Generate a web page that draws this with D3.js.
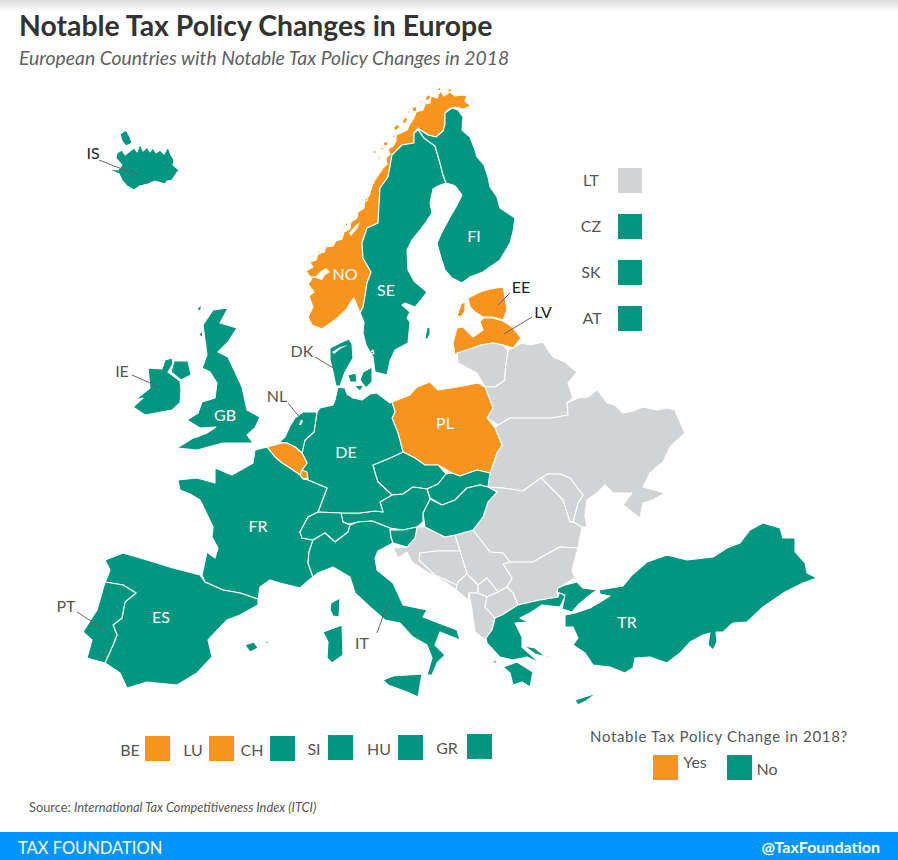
<!DOCTYPE html>
<html><head><meta charset="utf-8">
<script src="https://cdn.jsdelivr.net/npm/d3@7"></script>
<style>html,body{margin:0;padding:0;background:#fff}svg{display:block}text{font-family:Lato,"Open Sans",sans-serif}</style>
</head><body><svg id="c" width="898" height="860"></svg>
<script>
const NO=[[308,317],[313,307],[309,296],[314,292],[308,284],[312,279],[306,271],[313,267],[310,262],[316,260],[318,254],[324,252],[326,247],[333,246],[336,241],[342,239],[344,232],[350,229],[351,222],[357,218],[358,212],[364,208],[365,199],[369,196],[372,186],[375,180],[379,174],[383,168],[387,164],[386,158],[390,154],[388,149],[393,146],[396,141],[396,135],[403,132],[407,130],[410,124],[414,118],[416,112],[423,110],[425,104],[430,103],[431,96],[437,98],[440,91],[444,96],[450,92],[455,96],[462,95],[467,96],[465,101],[471,106],[463,109],[455,107],[449,109],[445,113],[445,124],[443,131],[436,137],[428,135],[422,131],[418,128],[414,133],[414,143],[402,145],[392,155],[388,177],[380,188],[379,205],[378,223],[367,228],[362,243],[363,258],[371,272],[367,283],[365,296],[363,307],[360,313],[354,298],[350,303],[346,310],[335,320],[322,329],[312,325]];
const NOisles=[[[402,122],[405,117],[408,119],[405,124]],[[412,108],[416,106],[417,111],[413,112]],[[425,98],[429,94],[431,98],[427,101]],[[393,128],[397,124],[400,127],[396,131]],[[383,143],[387,141],[388,145],[384,146]],[[372,152],[376,150],[376,154]],[[436,90],[440,87],[441,91]],[[446,91],[451,88],[452,92]],[[363,203],[366,197],[368,200]],[[380,149],[383,147],[384,151]],[[392,136],[395,134],[395,139]],[[377,158],[380,156],[380,160]],[[407,112],[410,110],[410,114]],[[419,102],[422,100],[422,104]],[[470,101],[473,102],[471,104]],[[317,252],[320,250],[320,254]],[[345,224],[348,222],[347,227]]];
const SE=[[414,143],[414,133],[418,130],[424,138],[435,146],[440,163],[443,175],[446,183],[438,186],[433,189],[430,203],[432,213],[426,222],[420,230],[412,240],[407,250],[408,270],[414,281],[427,292],[421,300],[415,307],[405,303],[402,305],[410,312],[407,318],[410,322],[408,343],[395,350],[390,361],[387,375],[375,372],[373,357],[366,345],[363,333],[364,322],[360,313],[363,307],[365,296],[367,283],[371,272],[363,258],[362,243],[367,228],[378,223],[379,205],[380,188],[388,177],[392,155],[402,145]];
const SEisle=[[[427,328],[430,327],[430,334],[427,340],[425,338]]];
const FI=[[418,129],[422,131],[428,135],[436,137],[443,131],[445,124],[445,113],[452,108],[458,110],[463,117],[462,130],[470,137],[475,150],[477,157],[484,165],[488,177],[490,187],[497,197],[500,208],[515,218],[513,232],[510,243],[500,260],[490,267],[483,272],[470,277],[462,283],[452,278],[445,270],[441,258],[437,243],[442,232],[450,217],[456,207],[458,203],[462,195],[456,187],[453,185],[446,183],[443,175],[440,163],[435,146],[424,138]];
const EE=[[468,298],[480,292],[490,289],[503,287],[505,297],[507,310],[503,320],[493,317],[483,317],[475,312],[470,307]];
const EEisle=[[[461,304],[465,302],[465,311],[461,317],[457,316]]];
const LV=[[483,318],[493,318],[503,321],[512,327],[521,338],[513,348],[503,345],[493,343],[481,345],[473,348],[455,355],[453,343],[457,328],[463,327],[473,337],[483,330],[480,322]];
const LT=[[457,353],[473,348],[481,345],[493,343],[503,345],[508,350],[505,373],[505,380],[495,387],[485,387],[477,373],[458,363]];
const BY=[[508,350],[513,348],[521,343],[530,345],[543,342],[548,350],[553,357],[565,362],[577,372],[568,383],[573,398],[567,403],[568,415],[552,418],[533,418],[510,418],[498,425],[487,418],[493,408],[485,387],[495,387],[505,380],[505,373]];
const UA=[[498,425],[510,418],[533,418],[552,418],[568,415],[567,403],[578,398],[588,397],[597,390],[602,396],[607,403],[615,405],[623,413],[633,411],[643,407],[657,410],[667,408],[675,410],[680,422],[685,433],[670,447],[663,462],[650,473],[643,487],[665,493],[653,500],[643,503],[640,518],[623,505],[632,493],[613,493],[605,485],[597,493],[587,500],[585,515],[587,527],[582,527],[573,522],[578,503],[583,495],[570,478],[560,474],[548,474],[541,478],[523,491],[503,488],[488,487],[490,473],[497,453],[502,445],[495,428]];
const MD=[[541,478],[548,474],[560,474],[570,478],[583,495],[578,503],[573,522],[570,522],[567,513],[563,500]];
const RO=[[488,487],[503,488],[523,491],[541,478],[563,500],[567,513],[570,522],[573,522],[582,527],[578,548],[560,547],[547,554],[533,562],[510,562],[503,553],[490,552],[473,530],[483,517],[488,502],[497,492]];
const BG=[[510,562],[533,562],[547,554],[560,547],[578,548],[572,570],[575,578],[563,585],[557,592],[558,597],[540,600],[518,605],[513,593],[507,587],[512,578],[503,564]];
const RS=[[455,535],[473,530],[490,552],[503,553],[510,562],[503,564],[512,578],[507,587],[498,592],[487,578],[478,585],[467,574],[463,561],[460,551]];
const HR=[[393,548],[407,547],[415,538],[417,527],[425,527],[445,537],[455,535],[460,551],[437,551],[420,553],[419,560],[435,575],[457,585],[456,590],[445,582],[427,572],[412,562],[407,552],[398,558]];
const BA=[[420,553],[437,551],[460,551],[463,561],[467,574],[458,582],[457,585],[435,575],[419,560]];
const ME=[[467,574],[478,585],[478,593],[469,593],[468,600],[456,590],[457,585],[458,582]];
const XK=[[487,578],[498,592],[487,597],[478,593],[478,585]];
const AL=[[469,593],[478,593],[487,597],[485,607],[495,618],[492,630],[485,640],[475,632],[472,610]];
const MK=[[487,597],[498,592],[507,587],[513,593],[518,605],[513,608],[502,615],[495,618],[485,607]];
const PL=[[392,402],[410,395],[417,387],[430,382],[438,390],[457,387],[478,383],[485,387],[493,408],[487,418],[495,428],[502,445],[497,453],[490,473],[477,470],[460,476],[452,473],[438,465],[425,465],[415,458],[403,452],[398,433],[392,418],[395,412]];
const CZ=[[373,465],[390,458],[403,452],[415,458],[425,465],[438,465],[446,474],[438,484],[427,489],[413,487],[403,494],[392,495],[378,482],[375,473]];
const SK=[[446,474],[452,473],[460,476],[477,470],[490,473],[488,487],[480,485],[467,488],[455,500],[442,505],[430,498],[427,489],[438,484]];
const HU=[[430,499],[442,505],[455,500],[467,488],[480,485],[488,487],[497,492],[488,502],[483,517],[473,530],[455,535],[445,537],[425,527],[423,513]];
const AT=[[341,513],[360,513],[375,511],[383,512],[380,502],[392,495],[403,494],[413,487],[427,489],[430,499],[423,513],[423,522],[417,527],[403,530],[390,528],[372,521],[358,522],[349,524],[343,522]];
const SI=[[390,530],[403,530],[417,527],[415,538],[407,547],[393,543],[391,538]];
const DE=[[320,408],[333,405],[335,400],[338,387],[345,388],[347,394],[353,398],[362,400],[370,394],[377,393],[390,403],[392,402],[395,412],[392,418],[398,433],[403,452],[390,458],[373,465],[375,473],[378,482],[392,495],[380,502],[383,512],[375,511],[360,513],[341,513],[318,512],[327,488],[308,480],[302,470],[307,463],[302,453],[305,440],[314,432],[317,412]];
const NL=[[285,437],[290,426],[295,418],[303,412],[317,412],[314,432],[305,440],[302,453],[295,447],[287,443],[279,442]];
const BE=[[267,447],[282,443],[287,443],[295,447],[302,453],[307,463],[302,470],[300,475],[290,468],[282,463],[275,457]];
const LU=[[302,470],[307,472],[308,478],[303,479],[300,475]];
const FR=[[255,450],[267,447],[275,457],[282,463],[290,468],[300,475],[303,479],[308,480],[327,488],[318,512],[308,517],[300,532],[302,538],[313,540],[309,552],[308,563],[313,577],[307,582],[300,588],[280,583],[270,580],[260,587],[258,599],[240,593],[223,590],[205,582],[202,575],[207,552],[215,558],[218,548],[212,537],[213,527],[205,510],[200,500],[190,494],[180,490],[178,480],[197,478],[215,483],[215,468],[232,475],[253,463]];
const CH=[[300,532],[308,517],[318,512],[341,513],[343,522],[350,525],[348,532],[335,542],[325,533],[313,540],[302,538]];
const IT=[[307,582],[313,577],[308,563],[309,552],[313,540],[325,533],[335,542],[348,532],[350,525],[358,522],[372,521],[390,528],[390,530],[391,538],[393,543],[378,551],[375,558],[377,570],[393,583],[403,605],[427,610],[423,617],[457,630],[460,640],[440,632],[435,645],[445,655],[437,663],[432,675],[427,675],[432,658],[427,645],[413,637],[400,623],[385,620],[370,607],[355,593],[350,577],[333,567],[318,573]];
const ITisles=[[[383,680],[393,676],[422,674],[418,697],[407,692],[388,685]],[[323,632],[342,625],[343,655],[332,663],[327,658],[328,642]],[[331,603],[340,598],[339,617],[333,616],[330,610]]];
const ES=[[105,560],[123,553],[147,560],[173,568],[200,575],[205,582],[223,590],[240,593],[258,599],[258,605],[240,615],[227,620],[208,640],[212,657],[197,673],[177,685],[147,682],[127,688],[120,673],[105,663],[113,645],[117,635],[113,625],[122,618],[125,602],[136,593],[123,585],[105,582],[107,578],[110,570]];
const ESisles=[[[245,645],[254,642],[258,648],[250,652]],[[264,641],[269,642],[267,644]]];
const PT=[[105,582],[123,585],[136,593],[125,602],[122,618],[113,625],[117,635],[113,645],[105,663],[87,658],[92,640],[83,632],[97,610]];
const GB=[[177,448],[193,438],[197,437],[207,433],[216,427],[200,428],[187,420],[198,413],[202,402],[215,398],[217,383],[210,372],[202,368],[207,355],[203,325],[213,310],[228,308],[220,323],[237,328],[228,342],[218,352],[228,357],[242,387],[247,410],[260,417],[255,428],[247,435],[253,443],[223,443],[197,450]];
const GBisles=[[[174,361],[188,361],[191,375],[181,380],[171,372]],[[197,308],[202,305],[200,312]],[[199,335],[202,330],[203,338]]];
const IE=[[148,368],[162,369],[165,360],[172,358],[173,364],[168,372],[180,381],[181,390],[180,403],[172,410],[145,415],[133,407],[143,398],[135,400],[150,388]];
const DK=[[330,348],[340,343],[349,339],[352,344],[353,358],[345,372],[340,386],[336,386],[333,372],[330,360]];
const DKisles=[[[363,372],[372,367],[372,382],[366,388],[360,380]],[[348,375],[356,373],[357,382],[350,382]],[[354,386],[364,385],[360,391]],[[370,353],[373,350],[374,354]]];
const IS=[[117,153],[122,150],[125,155],[130,151],[134,148],[137,152],[140,144],[143,151],[147,147],[150,152],[153,148],[156,153],[160,150],[164,154],[168,147],[171,155],[174,160],[173,165],[179,170],[176,174],[172,180],[167,181],[165,184],[155,181],[148,184],[140,186],[134,190],[127,186],[122,180],[119,174],[108,169],[118,170],[122,165],[116,158]];
const ISisles=[[[120,134],[126,130],[130,137],[132,143],[126,146],[122,141]],[[113,137],[116,136],[115,139]]];
const GR=[[486,638],[492,630],[495,618],[502,615],[513,608],[518,605],[540,600],[558,597],[560,590],[565,597],[560,607],[542,605],[530,613],[520,618],[528,622],[515,623],[522,637],[522,647],[540,663],[527,657],[513,660],[500,657],[487,643]];
const GRisles=[[[503,667],[517,662],[533,672],[530,687],[522,682],[513,685],[510,673]],[[524,646],[535,648],[546,657],[535,654]],[[493,661],[496,660],[496,665]],[[546,655],[549,656],[547,658]]];
const TR=[[599,590],[623,586],[632,575],[647,562],[667,555],[687,560],[713,557],[727,548],[740,543],[750,530],[763,523],[780,528],[783,538],[795,538],[795,552],[805,563],[807,573],[817,578],[803,583],[785,592],[763,607],[747,622],[733,623],[723,632],[716,632],[717,642],[713,650],[708,645],[710,633],[703,635],[690,642],[680,653],[667,663],[650,657],[635,658],[633,668],[625,673],[610,667],[593,665],[585,653],[573,645],[578,638],[573,627],[565,627],[565,615],[575,613],[590,608],[600,602],[610,596],[600,594]];
const TRisles=[[[565,585],[577,582],[583,588],[597,590],[590,595],[578,605],[572,612],[562,609],[565,595],[557,592],[558,588]]];
const CY=[[575,700],[597,693],[586,701],[578,705]];
// water bodies inside land
const waterNO=[[307,277],[316,276],[321,271],[326,268],[330,272],[325,275],[322,280],[316,278]];
const waterNO2=[[349,233],[356,225],[360,222],[357,229],[351,236]];
const waterNL=[[299,425],[301,419],[303,421],[301,425]];
const waterDK=[[332,352],[340,347],[348,345],[340,349],[334,354]];

const countryCodes=["NO","SE","FI","EE","LV","LT","BY","UA","MD","RO","BG","RS","HR","BA","ME","XK","AL","MK","PL","CZ","SK","HU","AT","SI","DE","NL","BE","LU","FR","CH","IT","ES","PT","GB","IE","DK","IS","GR","TR","CY"];
const mainland=[NO,SE,FI,EE,LV,LT,BY,UA,MD,RO,BG,RS,HR,BA,ME,XK,AL,MK,PL,CZ,SK,HU,AT,SI,DE,NL,BE,LU,FR,CH,IT,ES,PT,GB,IE,DK,IS,GR,TR,CY];
const islands={NO:NOisles,SE:SEisle,EE:EEisle,IT:ITisles,ES:ESisles,GB:GBisles,DK:DKisles,IS:ISisles,GR:GRisles,TR:TRisles};
const waters=[waterNO,waterNO2,waterNL,waterDK];
const yesCountries=["NO","EE","LV","PL","BE","LU"];
const noData=["LT","BY","UA","MD","RO","BG","RS","HR","BA","ME","XK","AL","MK"];
const sideLegend=[["LT","none"],["CZ","no"],["SK","no"],["AT","no"]];
const bottomLegend=[["BE","yes"],["LU","yes"],["CH","no"],["SI","no"],["HU","no"],["GR","no"]];
const keyLegend=[["Yes","yes"],["No","no"]];
const insideLabels=["NO","SE","FI","GB","DE","FR","ES","TR","PL"];
const calloutLabels=["IS","EE","LV","DK","IE","NL","PT","IT"];
const titleText="Notable Tax Policy Changes in Europe";
const subtitleText="European Countries with Notable Tax Policy Changes in 2018";
const sourcePlain="Source: ";
const sourceItalic="International Tax Competitiveness Index (ITCI)";
const brandText="TAX FOUNDATION";
const handleText="@TaxFoundation";
const keyTitle="Notable Tax Policy Change in 2018?";

// ---------- LAYOUT ----------
const W=898,H=860;
const color=d3.scaleOrdinal(["yes","no","none"],["#F7941D","#00967F","#D1D3D4"]);
const insidePos={NO:[345,280],SE:[386,296],FI:[474,242],GB:[225,421],DE:[346,458],FR:[258,532],ES:[161,623],TR:[627,628],PL:[445,429]};
const callout={IS:{t:[93,159],l:[99,160,137,175],c:"#222"},EE:{t:[521,293],l:[510,293,498,305],c:"#222"},LV:{t:[543,318],l:[532,317,504,334],c:"#222"},
 DK:{t:[302,357],l:[315,357,335,369],c:"#555"},IE:{t:[122,377],l:[132,375,157,386],c:"#555"},NL:{t:[277,402],l:[288,403,302,420],c:"#555"},
 PT:{t:[66,612],l:[77,612,103,629],c:"#555"},IT:{t:[362,649],l:[377,633,388,602],c:"#555"}};
const sidePos=[[591,168],[591,214],[591,260],[592,306]];
const bottomPos=[[130,145,736],[193,209,736],[252,270,736],[314,328,735],[379,398,735],[447,467,734]];
const keyPos=[[695,653,755,768],[767,727,755,775]];

const svg=d3.select("#c");
const defs=svg.append("defs");
const g=defs.append("linearGradient").attr("id","top").attr("x1",0).attr("x2",0).attr("y1",0).attr("y2",1);
g.append("stop").attr("offset",0).attr("stop-color","#dcdcdc");
g.append("stop").attr("offset",1).attr("stop-color","#ffffff");
svg.append("rect").attr("width",W).attr("height",H).attr("fill","#fff");
svg.append("rect").attr("width",W).attr("height",12).attr("fill","url(#top)");

svg.append("text").attr("x",19).attr("y",36).attr("font-size",28.4).attr("font-weight",700).attr("fill","#333").text(titleText);
svg.append("text").attr("x",19).attr("y",65).attr("font-size",19.35).attr("font-style","italic").attr("fill","#5f5f5f").text(subtitleText);

// map
const features=countryCodes.map((code,i)=>{
  const polys=[[ [...mainland[i],mainland[i][0]] ]];
  (islands[code]||[]).forEach(p=>polys.push([[...p,p[0]]]));
  return {type:"Feature",id:code,properties:{status:yesCountries.includes(code)?"yes":noData.includes(code)?"none":"no"},geometry:{type:"MultiPolygon",coordinates:polys}};
});
const path=d3.geoPath(d3.geoIdentity());
const mapG=svg.append("g");
mapG.selectAll("path.land").data(features).join("path").attr("class","land").attr("d",path)
  .attr("fill",d=>color(d.properties.status)).attr("stroke","#fff").attr("stroke-width",1.1).attr("stroke-linejoin","round");
mapG.selectAll("path.water").data(waters).join("path").attr("class","water")
  .attr("d",w=>path({type:"Polygon",coordinates:[[...w,w[0]]]})).attr("fill","#fff");

// labels inside
svg.append("g").selectAll("text").data(insideLabels).join("text")
  .attr("x",d=>insidePos[d][0]).attr("y",d=>insidePos[d][1]).attr("text-anchor","middle")
  .attr("font-size",16).attr("fill","#fff").text(d=>d);
// callouts
const cg=svg.append("g");
cg.selectAll("line").data(calloutLabels).join("line")
  .attr("x1",d=>callout[d].l[0]).attr("y1",d=>callout[d].l[1]).attr("x2",d=>callout[d].l[2]).attr("y2",d=>callout[d].l[3])
  .attr("stroke","#666").attr("stroke-width",1);
cg.selectAll("text").data(calloutLabels).join("text")
  .attr("x",d=>callout[d].t[0]).attr("y",d=>callout[d].t[1]).attr("text-anchor","middle")
  .attr("font-size",16).attr("fill",d=>callout[d].c).text(d=>d);

// side legend
const sl=svg.append("g");
sl.selectAll("rect").data(sideLegend).join("rect").attr("x",618).attr("y",(d,i)=>sidePos[i][1]).attr("width",24).attr("height",25).attr("fill",d=>color(d[1]));
sl.selectAll("text").data(sideLegend).join("text").attr("x",(d,i)=>sidePos[i][0]).attr("y",(d,i)=>sidePos[i][1]+18).attr("text-anchor","middle").attr("font-size",16).attr("fill","#555").text(d=>d[0]);
// bottom legend
const bl=svg.append("g");
bl.selectAll("rect").data(bottomLegend).join("rect").attr("x",(d,i)=>bottomPos[i][1]).attr("y",(d,i)=>bottomPos[i][2]).attr("width",25).attr("height",25).attr("fill",d=>color(d[1]));
bl.selectAll("text").data(bottomLegend).join("text").attr("x",(d,i)=>bottomPos[i][0]).attr("y",(d,i)=>bottomPos[i][2]+20).attr("text-anchor","middle").attr("font-size",16).attr("fill","#555").text(d=>d[0]);
// key
svg.append("text").attr("x",590).attr("y",742).attr("font-size",15).attr("letter-spacing",0.67).attr("fill","#555").text(keyTitle);
const kl=svg.append("g");
kl.selectAll("rect").data(keyLegend).join("rect").attr("x",(d,i)=>keyPos[i][1]).attr("y",(d,i)=>keyPos[i][2]).attr("width",25).attr("height",25).attr("fill",d=>color(d[1]));
kl.selectAll("text").data(keyLegend).join("text").attr("x",(d,i)=>keyPos[i][0]).attr("y",(d,i)=>keyPos[i][3]).attr("text-anchor","middle").attr("font-size",16).attr("fill","#555").text(d=>d[0]);
// source
const st=svg.append("text").attr("x",29).attr("y",812).attr("font-size",12.8).attr("fill","#555");
st.append("tspan").text(sourcePlain);
st.append("tspan").attr("font-style","italic").text(sourceItalic);
// footer
svg.append("rect").attr("y",832).attr("width",W).attr("height",28).attr("fill","#0094FF");
svg.append("text").attr("x",18).attr("y",854).attr("font-size",16.5).attr("fill","#fff").text(brandText);
svg.append("text").attr("x",880).attr("y",853).attr("text-anchor","end").attr("font-size",16).attr("font-weight",700).attr("fill","#fff").text(handleText);
</script></body></html>
